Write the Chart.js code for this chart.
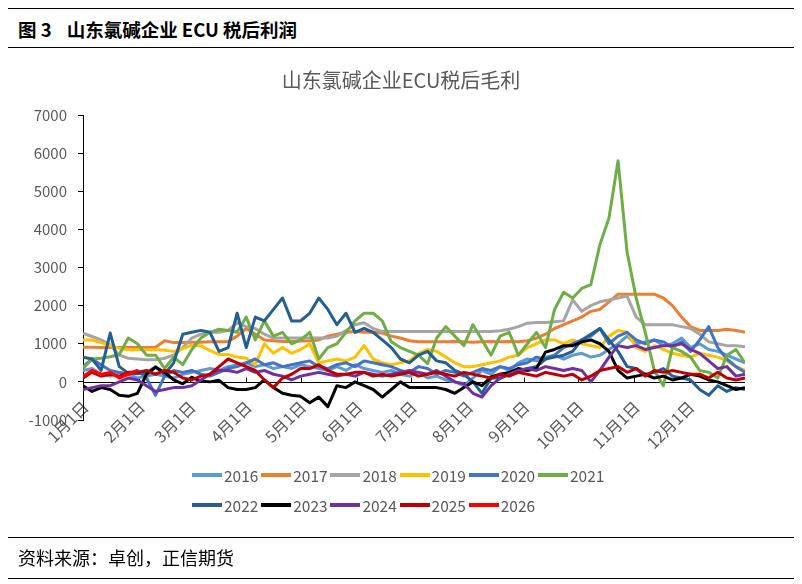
<!DOCTYPE html>
<html><head><meta charset="utf-8">
<script src="https://cdn.jsdelivr.net/npm/chart.js@4.4.1/dist/chart.umd.min.js"></script>
<style>
html,body{margin:0;padding:0;background:#fff;}
body{width:802px;height:584px;position:relative;overflow:hidden;font-family:"Noto Sans CJK SC","Noto Sans",sans-serif;}
.rule{position:absolute;left:8px;width:786px;height:0;border-top:1.5px solid #000;}
#hdr{position:absolute;left:18px;top:15px;font-size:18.5px;font-weight:bold;color:#000;line-height:28px;white-space:nowrap;}
#hdr span{margin-left:15px;}
#src{position:absolute;left:18px;top:543px;font-size:18px;color:#000;line-height:28px;white-space:nowrap;}
#wrap{position:absolute;left:0;top:0;width:802px;height:584px;}
#legend{position:absolute;left:192px;top:460px;width:430px;}
.row{height:30px;display:flex;align-items:center;}
.item{width:69.2px;flex:none;display:flex;align-items:center;font-size:15.5px;color:#595959;line-height:30px;}
.sw{width:30px;height:4px;margin-right:2px;flex:none;}
</style></head>
<body>
<div class="rule" style="top:8px"></div>
<div id="hdr">图 3<span>山东氯碱企业 ECU 税后利润</span></div>
<div class="rule" style="top:47px"></div>
<div id="wrap"><canvas id="c" width="802" height="584"></canvas></div>
<div id="legend"></div>
<div class="rule" style="top:537px"></div>
<div id="src">资料来源：卓创，正信期货</div>
<div class="rule" style="top:578px"></div>
<script>
const days = [0,5,10,15,20,25,30,35,40,45,50,55,60,65,70,75,80,85,90,95,100,105,110,115,120,125,130,135,140,145,150,155,160,165,170,175,180,185,190,195,200,205,210,215,220,225,230,235,240,245,250,255,260,265,270,275,280,285,290,295,300,305,310,315,320,325,330,335,340,345,350,355,360,365];
const monthDays = [0,31,59,90,120,151,181,212,243,273,304,334];
const monthLabels = ['1月1日','2月1日','3月1日','4月1日','5月1日','6月1日','7月1日','8月1日','9月1日','10月1日','11月1日','12月1日'];
const yTicks = [-1000,0,1000,2000,3000,4000,5000,6000,7000];
const years = ['2016','2017','2018','2019','2020','2021','2022','2023','2024','2025','2026'];
const colors = ['#5B9BD5','#ED7D31','#A5A5A5','#FFC000','#4472C4','#70AD47','#255E91','#000000','#7030A0','#C00000','#FF0000'];

const s2016 = [300,350,200,150,250,200,100,150,200,150,
 100,200,250,300,350,300,400,450,500,400,
 450,350,400,350,450,400,350,300,400,300,
 450,350,300,250,300,200,150,250,100,150,
 50,0,-100,100,300,200,400,300,500,600,
 550,650,700,600,700,750,650,700,850,1000,
 1200,1000,1050,1100,950,1000,1150,900,1000,850,
 800,700,600,500];
const s2017 = [910,905,900,900,900,900,900,900,910,1080,
 1030,1030,1040,1040,1050,1050,1060,1200,1400,1250,
 1100,1080,1060,1060,1070,1080,1100,1200,1250,1300,
 1320,1300,1300,1280,1200,1150,1080,1050,1050,1050,
 1050,1060,1050,1040,1050,1060,1050,1060,1050,1080,
 1150,1250,1400,1500,1600,1700,1850,1900,2100,2300,
 2300,2300,2300,2300,2200,2000,1700,1450,1350,1350,
 1350,1380,1350,1300];
const s2018 = [1280,1190,1100,970,700,620,600,580,580,620,
 700,900,1150,1250,1300,1300,1350,1550,1450,1400,
 1250,1150,1150,1150,1150,1150,1150,1150,1200,1350,
 1500,1550,1400,1320,1320,1320,1320,1320,1320,1320,
 1320,1320,1320,1320,1320,1320,1340,1380,1450,1540,
 1560,1560,1580,1600,2150,1850,2000,2100,2150,2200,
 2250,1700,1500,1500,1500,1500,1450,1400,1250,1050,
 1000,950,950,920];
const s2019 = [1100,1100,1030,950,880,840,840,840,840,830,
 800,870,960,950,820,720,720,650,620,450,
 1000,750,900,750,850,1000,500,550,600,550,
 650,950,600,500,450,500,550,750,850,800,
 650,500,400,400,450,500,550,650,700,900,
 1000,1100,1100,1000,1100,1000,950,900,1200,1350,
 1300,900,800,950,850,750,700,650,750,700,
 650,550,400,300];
const s2020 = [400,600,450,300,250,200,300,100,-350,150,
 300,250,300,200,150,250,350,400,500,600,
 450,500,400,450,500,550,400,350,450,500,
 400,550,500,450,400,300,250,400,350,200,
 300,250,150,250,350,300,400,350,450,500,
 650,600,700,900,1000,1100,1200,1400,1000,1200,
 1300,1100,1000,1100,1050,900,1050,800,1100,1450,
 900,600,400,250];
const s2021 = [350,600,620,660,720,1150,1000,700,700,350,
 650,450,850,1150,1300,1380,1350,1300,1700,1100,
 1600,1200,1300,1000,1100,1300,600,900,1000,1300,
 1600,1800,1800,1600,1050,900,800,700,480,1150,
 1450,1200,950,1500,1100,700,1200,1300,700,1000,
 1300,900,1900,2350,2200,2450,2550,3600,4300,5800,
 3400,2200,1300,300,-100,900,800,650,300,250,
 100,700,850,500];
const s2022 = [650,600,300,1280,400,230,210,240,400,200,
 500,1250,1300,1350,1300,800,900,1800,900,1700,
 1600,1900,2200,1600,1600,1800,2200,1900,1500,1800,
 1300,1400,1300,1100,900,600,500,700,800,550,
 500,300,200,0,-300,100,100,200,250,350,
 400,600,650,700,800,1100,1250,1400,1100,800,
 400,350,200,250,350,150,100,50,-200,-350,
 -100,-250,-150,-200];
const s2023 = [-100,-250,-150,-200,-350,-380,-300,200,380,250,
 50,-50,120,20,0,40,-150,-200,-200,-150,
 50,-150,-300,-350,-380,-550,-400,-650,-100,-150,
 0,-100,-200,-400,-200,0,-150,-150,-150,-150,
 -200,-300,-150,0,-100,130,200,250,350,300,
 350,780,850,950,950,1050,1100,1000,800,300,
 100,150,200,100,150,50,100,200,150,50,
 0,-100,-200,-150];
const s2024 = [-200,-150,-100,-100,0,100,50,-100,-250,-200,
 -150,-150,-100,50,200,300,300,250,350,250,
 300,200,150,50,150,200,250,200,150,200,
 150,250,200,150,200,250,300,250,200,300,
 150,0,-50,-300,-400,-100,100,200,300,350,
 300,400,350,300,350,300,0,300,650,950,
 900,950,850,900,950,950,1000,850,750,550,
 350,400,150,200];
const s2025 = [100,250,150,200,150,250,250,300,200,300,
 250,100,50,150,200,400,600,500,400,300,
 50,-150,100,200,350,350,450,300,200,200,
 250,250,150,200,150,200,250,150,200,250,
 200,150,250,200,150,100,200,150,250,200,
 150,250,200,150,200,50,150,300,350,400,
 250,350,150,300,250,300,250,200,200,100,
 250,100,50,100];
const s2026 = [150,300,200,250,100,200,300];

const seriesValues = [s2016,s2017,s2018,s2019,s2020,s2021,s2022,s2023,s2024,s2025,s2026];

// HTML legend (two rows, as in the reference)
const leg = document.getElementById('legend');
[years.slice(0,6), years.slice(6)].forEach((rowYears, r) => {
  const row = document.createElement('div'); row.className = 'row';
  rowYears.forEach((yr, j) => {
    const idx = r*6 + j;
    const it = document.createElement('div'); it.className = 'item';
    const sw = document.createElement('span'); sw.className = 'sw'; sw.style.background = colors[idx];
    it.appendChild(sw); it.appendChild(document.createTextNode(yr));
    row.appendChild(it);
  });
  leg.appendChild(row);
});

const FONT = '"Noto Sans CJK SC","Noto Sans",sans-serif';
Chart.defaults.font.family = FONT;

const zeroAxis = {
  id: 'zeroAxis',
  beforeDatasetsDraw(chart) {
    const {ctx, chartArea, scales} = chart;
    const x = scales.x, y = scales.y;
    const y0 = Math.round(y.getPixelForValue(0)) + 0.5;
    ctx.save();
    ctx.strokeStyle = '#000'; ctx.lineWidth = 1;
    ctx.beginPath();
    ctx.moveTo(chartArea.left, y0); ctx.lineTo(chartArea.right, y0);
    monthDays.forEach(d => {
      const px = Math.round(x.getPixelForValue(d)) + 0.5;
      ctx.moveTo(px, y0); ctx.lineTo(px, y0 - 5);
    });
    ctx.stroke();
    ctx.restore();
  }
};

const datasets = years.map((yr, i) => ({
  label: yr,
  data: seriesValues[i].map((v, k) => ({x: days[k], y: v})),
  borderColor: colors[i],
  backgroundColor: colors[i],
  borderWidth: 3,
  pointRadius: 0,
  tension: 0,
  fill: false,
  borderJoinStyle: 'round',
  order: years.length - i
}));

new Chart(document.getElementById('c'), {
  type: 'line',
  data: {datasets},
  plugins: [zeroAxis],
  options: {
    responsive: false,
    animation: false,
    devicePixelRatio: 1,
    layout: {padding: {left: 0, right: 0, top: 60, bottom: 100}},
    plugins: {
      legend: {display: false},
      tooltip: {enabled: false},
      title: {
        display: true,
        text: '山东氯碱企业ECU税后毛利',
        color: '#595959',
        font: {size: 20, weight: 'normal', family: FONT},
        padding: {top: 8, bottom: 23}
      }
    },
    scales: {
      x: {
        type: 'linear', min: 0, max: 365,
        afterBuildTicks: s => { s.ticks = monthDays.map(v => ({value: v})); },
        afterFit: s => { s.height = 64; },
        ticks: {
          autoSkip: false, minRotation: 45, maxRotation: 45,
          mirror: true, padding: 9, labelOffset: 16,
          color: '#595959', font: {size: 16},
          callback: v => { const i = monthDays.indexOf(v); return i >= 0 ? monthLabels[i] : ''; }
        },
        grid: {display: false},
        border: {display: false}
      },
      y: {
        min: -1000, max: 7000,
        afterBuildTicks: s => { s.ticks = yTicks.map(v => ({value: v})); },
        afterFit: s => { s.width = 83; },
        ticks: {color: '#595959', font: {size: 15}, padding: 11, callback: v => String(v)},
        grid: {drawOnChartArea: false, tickLength: 5, color: '#000', lineWidth: 1},
        border: {color: '#000', width: 1}
      },
      yPad: {
        position: 'right', display: true,
        afterFit: s => { s.width = 57; },
        ticks: {display: false},
        grid: {display: false},
        border: {display: false}
      }
    }
  }
});
</script>
</body></html>
